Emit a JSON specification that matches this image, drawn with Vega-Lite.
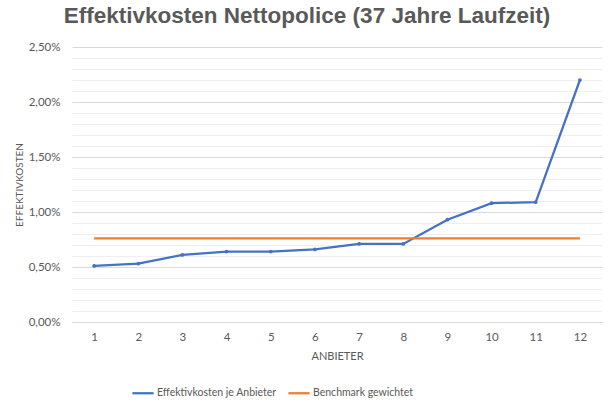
{
  "$schema": "https://vega.github.io/schema/vega-lite/v6.json",
  "width": 530,
  "height": 275,
  "autosize": {"type": "none"},
  "padding": {"left": 72, "top": 47, "right": 11, "bottom": 91},
  "background": "white",
  "config": {
    "locale": {"number": {"decimal": ",", "thousands": ".", "grouping": [3], "currency": ["", " €"]}},
    "view": {"stroke": null},
    "font": "Lato"
  },
  "title": {
    "text": "Effektivkosten Nettopolice (37 Jahre Laufzeit)",
    "font": "Liberation Sans",
    "fontSize": 22.5,
    "fontWeight": "bold",
    "color": "#595959",
    "anchor": "middle",
    "dx": -30,
    "offset": 14
  },
  "data": {
    "values": [
      {"anbieter": 1, "kosten": 0.0051, "serie": "Effektivkosten je Anbieter"},
      {"anbieter": 2, "kosten": 0.0053, "serie": "Effektivkosten je Anbieter"},
      {"anbieter": 3, "kosten": 0.0061, "serie": "Effektivkosten je Anbieter"},
      {"anbieter": 4, "kosten": 0.0064, "serie": "Effektivkosten je Anbieter"},
      {"anbieter": 5, "kosten": 0.0064, "serie": "Effektivkosten je Anbieter"},
      {"anbieter": 6, "kosten": 0.0066, "serie": "Effektivkosten je Anbieter"},
      {"anbieter": 7, "kosten": 0.0071, "serie": "Effektivkosten je Anbieter"},
      {"anbieter": 8, "kosten": 0.0071, "serie": "Effektivkosten je Anbieter"},
      {"anbieter": 9, "kosten": 0.0093, "serie": "Effektivkosten je Anbieter"},
      {"anbieter": 10, "kosten": 0.0108, "serie": "Effektivkosten je Anbieter"},
      {"anbieter": 11, "kosten": 0.0109, "serie": "Effektivkosten je Anbieter"},
      {"anbieter": 12, "kosten": 0.0220, "serie": "Effektivkosten je Anbieter"},
      {"anbieter": 1, "kosten": 0.0076, "serie": "Benchmark gewichtet"},
      {"anbieter": 2, "kosten": 0.0076, "serie": "Benchmark gewichtet"},
      {"anbieter": 3, "kosten": 0.0076, "serie": "Benchmark gewichtet"},
      {"anbieter": 4, "kosten": 0.0076, "serie": "Benchmark gewichtet"},
      {"anbieter": 5, "kosten": 0.0076, "serie": "Benchmark gewichtet"},
      {"anbieter": 6, "kosten": 0.0076, "serie": "Benchmark gewichtet"},
      {"anbieter": 7, "kosten": 0.0076, "serie": "Benchmark gewichtet"},
      {"anbieter": 8, "kosten": 0.0076, "serie": "Benchmark gewichtet"},
      {"anbieter": 9, "kosten": 0.0076, "serie": "Benchmark gewichtet"},
      {"anbieter": 10, "kosten": 0.0076, "serie": "Benchmark gewichtet"},
      {"anbieter": 11, "kosten": 0.0076, "serie": "Benchmark gewichtet"},
      {"anbieter": 12, "kosten": 0.0076, "serie": "Benchmark gewichtet"}
    ]
  },
  "encoding": {
    "x": {
      "field": "anbieter",
      "type": "ordinal",
      "scale": {"padding": 0.5},
      "axis": {
        "title": "ANBIETER",
        "titleFont": "Lato",
        "titleFontSize": 11,
        "titleFontWeight": "normal",
        "titleColor": "#595959",
        "titlePadding": 8,
        "labelAngle": 0,
        "labelFontSize": 11.5,
        "labelColor": "#595959",
        "labelPadding": 9,
        "domain": false,
        "ticks": false,
        "grid": false
      }
    },
    "y": {
      "field": "kosten",
      "type": "quantitative",
      "scale": {"domain": [0, 0.025], "nice": false},
      "axis": {
        "title": "EFFEKTIVKOSTEN",
        "titleFont": "Lato",
        "titleFontSize": 10,
        "titleFontWeight": "normal",
        "titleColor": "#595959",
        "titlePadding": 4,
        "values": [0, 0.001, 0.002, 0.003, 0.004, 0.005, 0.006, 0.007, 0.008, 0.009, 0.01, 0.011, 0.012, 0.013, 0.014, 0.015, 0.016, 0.017, 0.018, 0.019, 0.02, 0.021, 0.022, 0.023, 0.024, 0.025],
        "format": ".2%",
        "labelExpr": "round(datum.value*1000) % 5 === 0 ? datum.label : ''",
        "labelFontSize": 11.5,
        "labelColor": "#595959",
        "labelPadding": 12,
        "domain": false,
        "ticks": false,
        "grid": true,
        "gridColor": {"condition": {"test": "round(datum.value*1000) % 5 === 0", "value": "#d9d9d9"}, "value": "#efefef"},
        "gridWidth": 1
      }
    }
  },
  "layer": [
    {
      "mark": {"type": "line", "strokeWidth": 2.25},
      "encoding": {
        "color": {
          "field": "serie",
          "type": "nominal",
          "scale": {"domain": ["Effektivkosten je Anbieter", "Benchmark gewichtet"], "range": ["#4472C4", "#ED7D31"]},
          "legend": {
            "title": null,
            "orient": "none",
            "direction": "horizontal",
            "legendX": 59,
            "legendY": 334,
            "symbolType": "stroke",
            "symbolStrokeWidth": 2.25,
            "symbolSize": 450,
            "labelFontSize": 10.5,
            "labelColor": "#595959",
            "labelOffset": 2,
            "columnPadding": 6
          }
        }
      }
    },
    {
      "transform": [{"filter": "datum.serie === 'Effektivkosten je Anbieter'"}],
      "mark": {"type": "point", "filled": true, "size": 14, "color": "#4472C4", "opacity": 1}
    }
  ]
}
